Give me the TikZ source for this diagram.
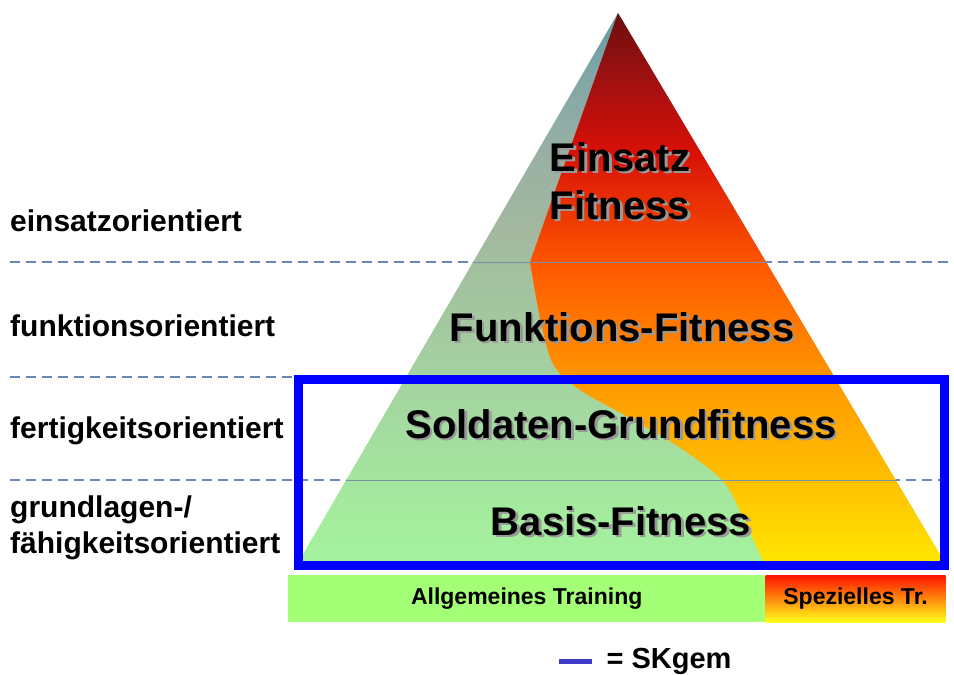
\documentclass[tikz,border=0pt]{standalone}
\usepackage{fontspec}
\setmainfont{Liberation Sans}
\usepackage{xcolor}
\usepackage{tikz}
\usetikzlibrary{positioning, calc}

\definecolor{dashblue}{HTML}{6A86B8}
\definecolor{edgeblue}{HTML}{7A92A8}
\definecolor{boxblue}{HTML}{0000FF}
\definecolor{legblue}{HTML}{3C3CC8}
\definecolor{bargreen}{HTML}{A3FF75}
\definecolor{grnA}{HTML}{A4F29E}
\definecolor{grnB}{HTML}{A4EE9E}
\definecolor{grnC}{HTML}{A4D8A0}
\definecolor{grnD}{HTML}{A3B89F}
\definecolor{grnE}{HTML}{98B0A4}
\definecolor{grnF}{HTML}{7FA6A6}
\definecolor{grnG}{HTML}{5F9A9C}
\definecolor{pyrA}{HTML}{FFE800}
\definecolor{pyrB}{HTML}{FFC000}
\definecolor{pyrC}{HTML}{FF9A00}
\definecolor{pyrD}{HTML}{FF5A00}
\definecolor{pyrE}{HTML}{D81008}
\definecolor{pyrF}{HTML}{A01010}
\definecolor{pyrG}{HTML}{6B0F0F}

\pgfdeclareverticalshading{greenpyramid}{100bp}{color(0bp)=(grnA); color(25bp)=(grnA);
  color(28.5bp)=(grnB); color(39.3bp)=(grnC); color(55.5bp)=(grnD);
  color(62.7bp)=(grnE); color(69.9bp)=(grnF); color(75bp)=(grnG); color(100bp)=(grnG)}
\pgfdeclareverticalshading{redpyramid}{100bp}{color(0bp)=(pyrA); color(25bp)=(pyrA);
  color(33bp)=(pyrB); color(41.5bp)=(pyrC); color(52bp)=(pyrD);
  color(62.5bp)=(pyrE); color(69bp)=(pyrF); color(75bp)=(pyrG); color(100bp)=(pyrG)}

\tikzset{
  sidelabel/.style={anchor=west, inner sep=0pt, align=left,
    font=\fontsize{30}{36}\selectfont\bfseries},
  pyrlabel/.style={inner sep=0pt, align=center,
    font=\fontsize{40}{48}\selectfont\bfseries},
  barlabel/.style={inner sep=0pt, minimum height=47pt,
    font=\fontsize{23}{26}\selectfont\bfseries},
  levelline/.style={dashblue, line width=2pt, dash pattern=on 10pt off 6pt},
}

% label with grey drop shadow
\newcommand\pyrtext[3]{%
  \node[pyrlabel, text=black!40] at ($(#2)+(2.5,2.5)$) {#3};
  \node[pyrlabel] (#1) at (#2) {#3};
}

\begin{document}
\begin{tikzpicture}[x=1pt, y=-1pt]
\useasboundingbox (0,0) rectangle (954,675);

% level separators
\draw[levelline] (10,262) -- (954,262);
\draw[levelline] (10,377) -- (297,377);
\draw[levelline] (10,480) -- (954,480);

% Pyramid (general part)
\shade[shading=greenpyramid] (618,13) -- (295,568) -- (948,568) -- cycle;
% Pyramid (special part)
\shade[shading=redpyramid]
  (618,13) -- plot[smooth, tension=0.5] coordinates {(530,262) (540,318) (553,364)
  (580,390) (626,416) (676,445) (722,480) (742,515) (766,568)} -- (948,568) -- cycle;

\begin{scope}
\clip (618,13) -- (295,568) -- (948,568) -- cycle;
\draw[edgeblue, line width=1pt] (295,262) -- (948,262);
\draw[edgeblue, line width=1pt] (295,480) -- (948,480);
\end{scope}

% levels
\node[sidelabel] (einsatzlvl) at (10,221) {einsatzorientiert};
\node[sidelabel] (funktionlvl) at (10,326) {funktionsorientiert};
\node[sidelabel] (fertiglvl) at (10,431) {fertigkeitsorientiert};
\node[sidelabel] (grundlvl) at (10,528) {grundlagen-/\\fähigkeitsorientiert};

\pyrtext{einsatzfit}{620,181}{Einsatz\\Fitness}
\pyrtext{funktionfit}{622,327}{Funktions-Fitness}
\pyrtext{soldatfit}{621,424}{Soldaten-Grundfitness}
\pyrtext{basisfit}{621,521}{Basis-Fitness}

% SKgem frame
\draw[boxblue, line width=9pt] (298,379) rectangle (944,565);

% training bars
\node[barlabel, fill=bargreen, minimum width=477pt, anchor=north west]
  (allgbar) at (288,575) {Allgemeines Training};
\node[barlabel, top color=red!85!orange, bottom color=yellow!90!white,
  minimum width=180pt, right=0pt of allgbar] (specbar) {Spezielles Tr.};

% legend
\node[inner sep=0pt, font=\fontsize{29}{32}\selectfont\bfseries] (skgem) at (669,661) {= SKgem};
\coordinate[left=14pt of skgem] (legendend);
\draw[legblue, line width=5pt] (legendend) -- ++(-33,0);
\end{tikzpicture}
\end{document}
